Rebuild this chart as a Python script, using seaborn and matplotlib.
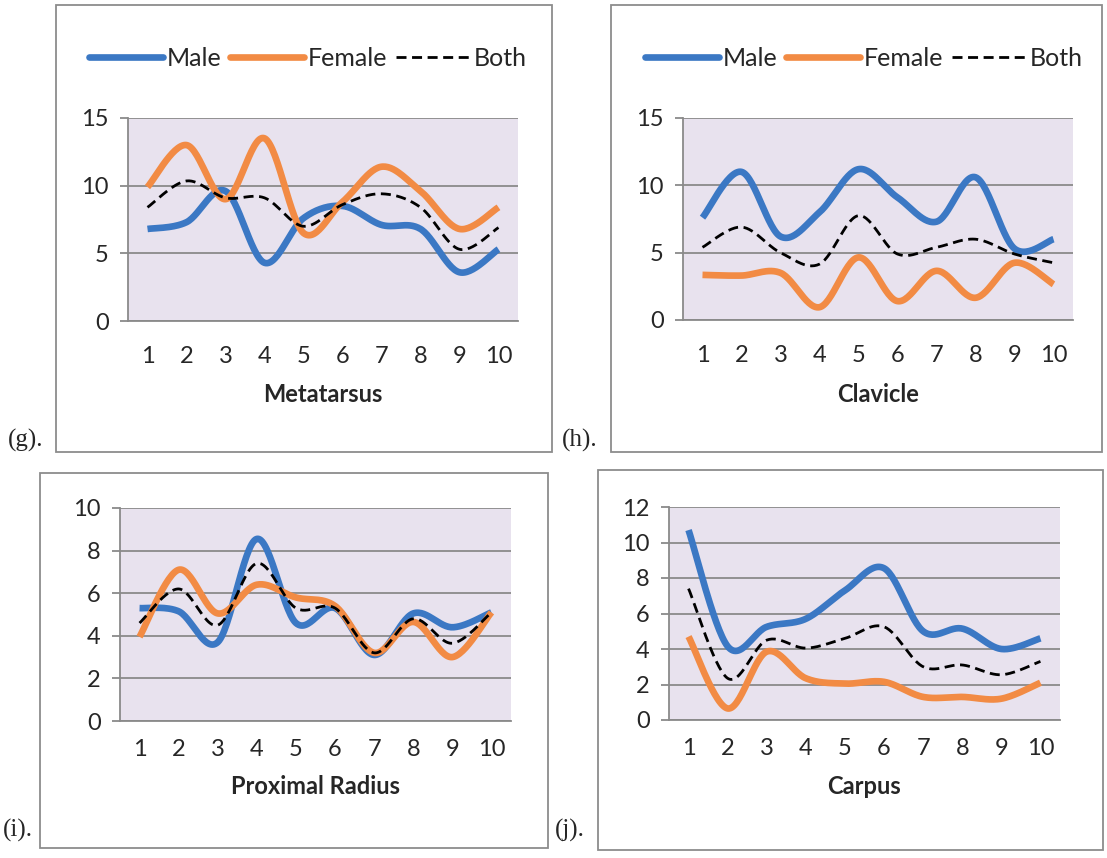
import numpy as np
import pandas as pd
import matplotlib
matplotlib.use("Agg")
import matplotlib.pyplot as plt
from matplotlib.patches import Rectangle
from matplotlib.lines import Line2D
import seaborn as sns

sns.set_style("white")
plt.rcParams['font.family'] = ['Lato', 'DejaVu Sans']

# ---------------- data ----------------
categories = [1, 2, 3, 4, 5, 6, 7, 8, 9, 10]

metatarsus_male = [6.8, 7.3, 9.6, 4.3, 7.6, 8.5, 7.1, 6.8, 3.6, 5.3]
metatarsus_female = [9.9, 13.0, 9.0, 13.5, 6.5, 8.8, 11.4, 9.6, 6.8, 8.4]
metatarsus_both = [8.4, 10.35, 9.1, 9.1, 7.0, 8.6, 9.4, 8.4, 5.3, 6.9]

clavicle_male = [7.6, 11.0, 6.2, 8.0, 11.2, 9.1, 7.3, 10.6, 5.3, 6.0]
clavicle_female = [3.35, 3.3, 3.5, 0.95, 4.65, 1.4, 3.65, 1.65, 4.25, 2.65]
clavicle_both = [5.4, 6.9, 5.0, 4.15, 7.75, 4.9, 5.4, 6.0, 4.9, 4.25]

radius_male = [5.3, 5.15, 3.7, 8.55, 4.6, 5.3, 3.1, 5.05, 4.4, 5.1]
radius_female = [3.95, 7.1, 5.05, 6.4, 5.8, 5.4, 3.2, 4.65, 3.0, 5.1]
radius_both = [4.6, 6.2, 4.5, 7.4, 5.3, 5.3, 3.2, 4.8, 3.65, 5.1]

carpus_male = [10.7, 4.15, 5.25, 5.7, 7.3, 8.55, 5.0, 5.15, 4.0, 4.6]
carpus_female = [4.7, 0.65, 3.85, 2.35, 2.05, 2.15, 1.3, 1.3, 1.2, 2.1]
carpus_both = [7.4, 2.35, 4.5, 4.05, 4.6, 5.25, 3.0, 3.1, 2.55, 3.3]

series_names = ["Male", "Female", "Both"]
panel_titles = ["Metatarsus", "Clavicle", "Proximal Radius", "Carpus"]
panel_tags = ["(g).", "(h).", "(i).", "(j)."]

# ---------------- style ----------------
W, H = 1107, 858
BLUE = "#3b78c4"
ORANGE = "#f28b44"
BG = "#e8e2ee"
GRID = "#8a8a8a"
BORDER = "#8c8c8c"
TXT = "#262626"

styles = {
    "Male": dict(color=BLUE, lw=4.8, ls="-"),
    "Female": dict(color=ORANGE, lw=4.8, ls="-"),
    "Both": dict(color="black", lw=2.0, ls=(0, (3.6, 2.0))),
}


def smooth(xs, ys, n=30):
    """Excel-like smoothed line (Bezier through points, Catmull-Rom tangents)."""
    P = np.column_stack([xs, ys]).astype(float)
    out = []
    m = len(P)
    for i in range(m - 1):
        p0 = P[i - 1] if i > 0 else P[i]
        p1, p2 = P[i], P[i + 1]
        p3 = P[i + 2] if i + 2 < m else P[i + 1]
        c1 = p1 + (p2 - p0) / 6.0
        c2 = p2 - (p3 - p1) / 6.0
        t = np.linspace(0, 1, n, endpoint=(i == m - 2))[:, None]
        seg = ((1 - t) ** 3) * p1 + 3 * ((1 - t) ** 2) * t * c1 + 3 * (1 - t) * t ** 2 * c2 + t ** 3 * p2
        out.append(seg)
    S = np.vstack(out)
    return S[:, 0], S[:, 1]


def px_axes(l, t, r, b):
    return [l / W, 1 - b / H, (r - l) / W, (b - t) / H]


fig = plt.figure(figsize=(W / 100, H / 100), dpi=100)

panels = [
    dict(data=[metatarsus_male, metatarsus_female, metatarsus_both], box=(56, 5, 552, 452),
         ax=(128, 118, 518, 321), ymax=15, ystep=5, xlab_y=395, xpad=18, legend=(308, 58), tag=(8, 440)),
    dict(data=[clavicle_male, clavicle_female, clavicle_both], box=(611, 5, 1102, 452),
         ax=(683, 118, 1073, 320), ymax=15, ystep=5, xlab_y=395, xpad=18, legend=(864, 58), tag=(562, 440)),
    dict(data=[radius_male, radius_female, radius_both], box=(40, 473, 548, 848),
         ax=(120, 508, 511, 721), ymax=10, ystep=2, xlab_y=786, xpad=13, legend=None, tag=(3, 830)),
    dict(data=[carpus_male, carpus_female, carpus_both], box=(598, 470, 1103, 850),
         ax=(669, 507, 1060, 720), ymax=12, ystep=2, xlab_y=786, xpad=13, legend=None, tag=(555, 830)),
]

for k, p in enumerate(panels):
    bl, bt, br, bb = p["box"]
    fig.patches.append(Rectangle((bl / W, 1 - bb / H), (br - bl) / W, (bb - bt) / H,
                                 transform=fig.transFigure, fill=False,
                                 edgecolor=BORDER, lw=1.3, zorder=0))
    fig.text(p["tag"][0] / W, 1 - p["tag"][1] / H, panel_tags[k], family="Liberation Serif",
             fontsize=18, ha="left", va="center", color=TXT)

    l, t, r, b = p["ax"]
    ax = fig.add_axes(px_axes(l, t, r, b))
    ax.set_facecolor(BG)
    for name, vals in zip(series_names, p["data"]):
        sx, sy = smooth(categories, vals)
        df = pd.DataFrame({"x": sx, "y": sy})
        st = styles[name]
        sns.lineplot(data=df, x="x", y="y", ax=ax, color=st["color"], lw=st["lw"],
                     linestyle=st["ls"], sort=False, estimator=None, label=name, legend=False,
                     solid_capstyle="butt", zorder=3)
    ax.set_xlim(0.5, 10.5)
    ax.set_ylim(0, p["ymax"])
    yt = np.arange(0, p["ymax"] + 0.01, p["ystep"])
    ax.set_yticks(yt)
    ax.set_yticklabels([f"{int(v)}" for v in yt])
    ax.yaxis.grid(True, color=GRID, lw=1.3)
    ax.xaxis.grid(False)
    ax.set_axisbelow(True)
    ax.set_xticks(categories)
    ax.set_xticklabels([str(c) for c in categories])
    ax.set_xticks(np.arange(0.5, 10.6, 1.0), minor=True)
    ax.tick_params(axis="x", which="major", length=0, pad=p["xpad"], labelsize=17, labelcolor=TXT)
    ax.tick_params(axis="x", which="minor", length=6, width=1.3, color=GRID, direction="out")
    ax.tick_params(axis="y", which="major", length=6, width=1.3, color=GRID, direction="out",
                   pad=8, labelsize=17, labelcolor=TXT, left=True)
    for side in ["top", "right"]:
        ax.spines[side].set_visible(False)
    for side in ["left", "bottom"]:
        ax.spines[side].set_color(GRID)
        ax.spines[side].set_linewidth(1.3)
    ax.set_ylabel("")
    ax.set_xlabel(panel_titles[k], fontsize=17, fontweight="bold", color=TXT, va="center")
    ax.xaxis.set_label_coords(0.5, -(p["xlab_y"] - b) / (b - t))

    if p["legend"] is not None:
        handles = [Line2D([0], [0], color=styles[n]["color"], lw=styles[n]["lw"],
                          ls=styles[n]["ls"]) for n in series_names]
        fig.legend(handles, series_names, loc="center",
                   bbox_to_anchor=(p["legend"][0] / W, 1 - p["legend"][1] / H),
                   bbox_transform=fig.transFigure, ncol=3, frameon=False, fontsize=18,
                   handlelength=2.95, handletextpad=0.15, columnspacing=0.35, labelcolor=TXT)

fig.savefig("out.png", dpi=100, facecolor="white")
